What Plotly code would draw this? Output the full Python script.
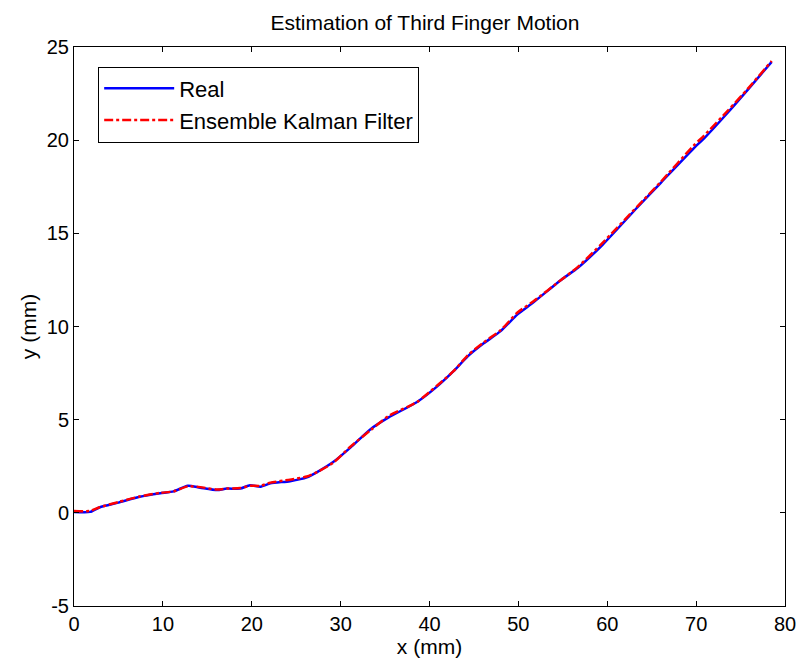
import plotly.graph_objects as go

x_real = [0, 1.8, 2.9, 5.0, 7.4, 9.7, 11.2, 12.8, 14.2, 16.1, 17.2, 18.7, 19.8, 21.0, 22.1, 24.3,
          26.2, 27.4, 29.2, 31.1, 33.4, 35.4, 38.6, 40.9, 42.7, 44.3, 46.1, 48.0, 49.9, 51.7,
          54.8, 56.7, 59.5, 63.4, 66.0, 69.7, 70.9, 73.6, 75.8, 78.5]
y_real = [0.05, 0.05, 0.3, 0.55, 0.86, 1.05, 1.15, 1.45, 1.35, 1.22, 1.3, 1.3, 1.48, 1.4, 1.58, 1.7,
          1.9, 2.2, 2.74, 3.5, 4.5, 5.12, 5.95, 6.8, 7.6, 8.4, 9.1, 9.75, 10.65, 11.3,
          12.5, 13.15, 14.4, 16.4, 17.7, 19.55, 20.1, 21.5, 22.7, 24.2]
y_enkf = [0.1, 0.1, 0.3, 0.58, 0.88, 1.07, 1.15, 1.42, 1.38, 1.25, 1.3, 1.33, 1.45, 1.45, 1.62, 1.78,
          1.95, 2.2, 2.7, 3.55, 4.45, 5.2, 5.95, 6.85, 7.6, 8.45, 9.15, 9.8, 10.75, 11.35,
          12.5, 13.2, 14.5, 16.45, 17.75, 19.7, 20.25, 21.6, 22.75, 24.25]

title = "Estimation of Third Finger Motion"
x_ticks = [0, 10, 20, 30, 40, 50, 60, 70, 80]
x_ticktext = ["0", "10", "20", "30", "40", "50", "60", "70", "80"]
y_ticks = [-5, 0, 5, 10, 15, 20, 25]
y_ticktext = ["-5", "0", "5", "10", "15", "20", "25"]

FONT = "Liberation Sans, Arial"

fig = go.Figure()
fig.add_trace(go.Scatter(x=x_real, y=y_real, mode="lines", name="Real",
                         line=dict(color="#0000ff", width=2.5, shape="spline", smoothing=0.6)))
fig.add_trace(go.Scatter(x=x_real, y=y_enkf, mode="lines", name="Ensemble Kalman Filter",
                         line=dict(color="#ff0000", width=2.5, dash="dashdot", shape="spline", smoothing=0.6)))

axis_common = dict(showline=True, linecolor="black", linewidth=1, mirror="allticks",
                   ticks="inside", ticklen=5, tickcolor="black", showgrid=False, zeroline=False,
                   automargin=False,
                   tickfont=dict(family=FONT, size=20, color="black"))
fig.update_layout(
    width=798, height=664,
    margin=dict(l=74, r=13, t=47, b=58, autoexpand=False),
    paper_bgcolor="white", plot_bgcolor="white",
    title=dict(text=title, x=425 / 798, xanchor="center", y=1 - 23 / 664, yanchor="middle",
               font=dict(family=FONT, size=21, color="black")),
    xaxis=dict(range=[0, 80], tickvals=x_ticks, ticktext=x_ticktext,
               title=dict(text="x (mm)", standoff=2,
                          font=dict(family=FONT, size=21, color="black")),
               **axis_common),
    yaxis=dict(range=[-5, 25], tickvals=y_ticks, ticktext=y_ticktext,
               title=dict(text="y (mm)", standoff=4,
                          font=dict(family=FONT, size=21, color="black")),
               **axis_common),
    legend=dict(x=0.034, y=0.965, xanchor="left", yanchor="top", bgcolor="white",
                bordercolor="black", borderwidth=1, itemwidth=70,
                font=dict(family=FONT, size=22, color="black")),
    showlegend=True,
)

fig.write_html("out.html", config={"displayModeBar": False},
               post_script="document.body.style.margin='0';document.body.style.overflow='hidden';")
